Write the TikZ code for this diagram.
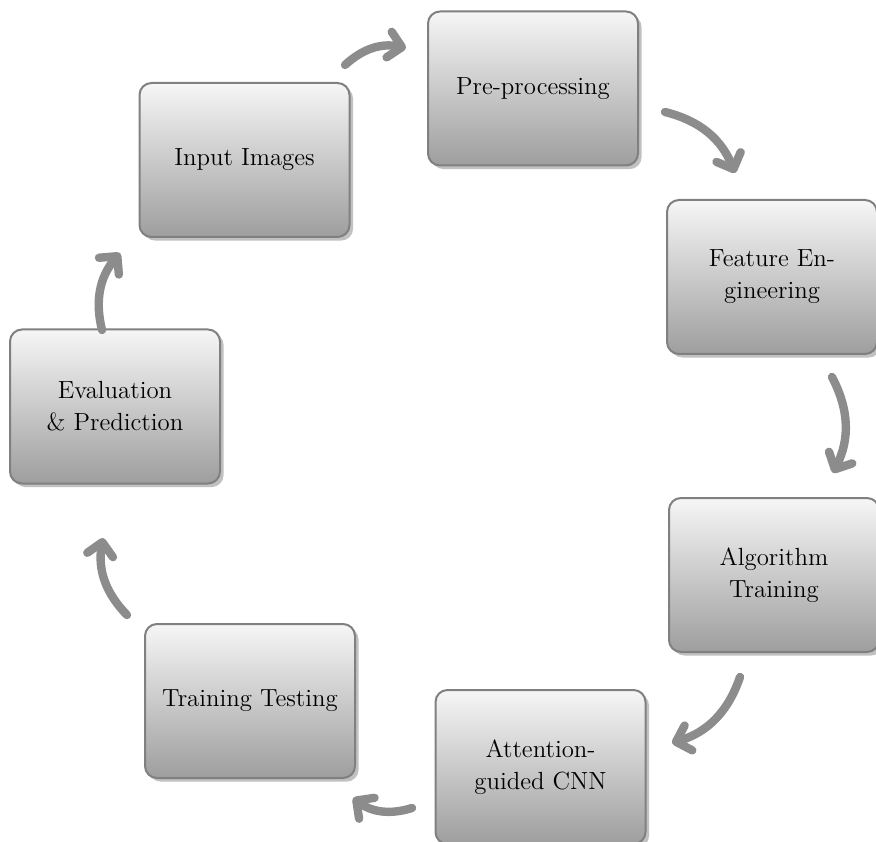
\documentclass[tikz,border=0pt]{standalone}
\usetikzlibrary{arrows.meta,shadows}
\definecolor{boxborder}{RGB}{128,128,128}
\definecolor{boxtop}{RGB}{246,246,246}
\definecolor{boxbottom}{RGB}{158,158,158}
\definecolor{arrowgray}{RGB}{140,140,140}
\tikzset{
  stage/.style={rectangle, rounded corners=6pt, draw=boxborder, line width=1pt,
    top color=boxtop, bottom color=boxbottom,
    minimum width=105pt, minimum height=77pt, inner sep=0pt, align=center,
    font=\fontsize{12.4}{16}\selectfont,
    drop shadow={shadow xshift=1.8pt, shadow yshift=-1.8pt, fill=black!35, opacity=0.7}},
  flow/.style={draw=arrowgray, line width=4.2pt, line cap=round,
    -{Straight Barb[length=6.5pt,width=13pt,round]}, bend left=27}
}
\begin{document}
\begin{tikzpicture}[x=0.5pt,y=0.5pt]
\useasboundingbox (0,0) rectangle (876,841);
\node[stage] (input) at (244.5,681) {Input Images};
\node[stage] (pre) at (533,752.5) {Pre-processing};
\node[stage] (feat) at (772,564) {Feature En-\\gineering};
\node[stage] (algo) at (774,266) {Algorithm\\Training};
\node[stage] (att) at (540.5,74) {Attention-\\guided CNN};
\node[stage] (test) at (250,140) {Training Testing};
\node[stage] (eval) at (115,434.5) {Evaluation\\\& Prediction};

\coordinate (a1s) at (345,776);  \coordinate (a1e) at (406,793);
\coordinate (a2s) at (665,729);  \coordinate (a2e) at (735,668);
\coordinate (a3s) at (832,464);  \coordinate (a3e) at (833,368);
\coordinate (a4s) at (740,164);  \coordinate (a4e) at (672,98);
\coordinate (a5s) at (412,33);   \coordinate (a5e) at (353,43);
\coordinate (a6s) at (127,226);  \coordinate (a6e) at (103,303);
\coordinate (a7s) at (102,511);  \coordinate (a7e) at (120,588);

\draw[flow] (a1s) to (a1e);
\draw[flow] (a2s) to (a2e);
\draw[flow] (a3s) to (a3e);
\draw[flow] (a4s) to (a4e);
\draw[flow] (a5s) to (a5e);
\draw[flow] (a6s) to (a6e);
\draw[flow] (a7s) to (a7e);
\end{tikzpicture}
\end{document}
